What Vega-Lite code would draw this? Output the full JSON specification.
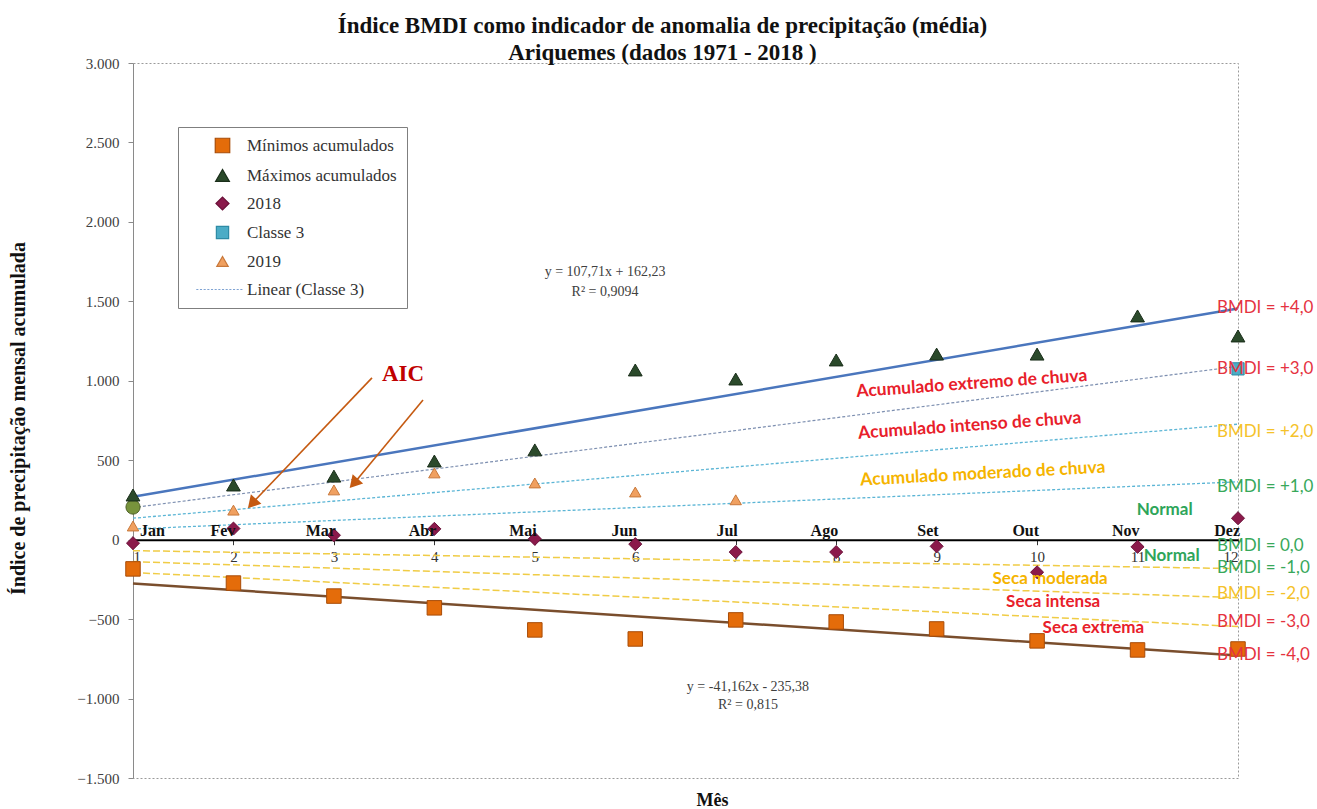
{
  "$schema": "https://vega.github.io/schema/vega-lite/v6.json",
  "autosize": {"type": "none"},
  "width": 1105,
  "height": 715,
  "padding": {"left": 133, "top": 63, "right": 79, "bottom": 31},
  "background": "white",
  "title": {
    "text": ["Índice BMDI como indicador de anomalia de precipitação (média)", "Ariquemes  (dados  1971 - 2018 )"],
    "font": "Liberation Serif",
    "fontSize": 23,
    "fontWeight": "bold",
    "lineHeight": 27,
    "color": "#111111",
    "anchor": "middle",
    "frame": "group",
    "dx": -23,
    "dy": 3,
    "offset": -6
  },
  "config": {
    "view": {"stroke": "#9a9a9a", "strokeDash": [2, 2], "strokeWidth": 1},
    "axis": {"grid": false}
  },
  "datasets": {
    "pts": [
      {"serie": "Mínimos acumulados", "mes": 1, "v": -184},
      {"serie": "Mínimos acumulados", "mes": 2, "v": -273},
      {"serie": "Mínimos acumulados", "mes": 3, "v": -355},
      {"serie": "Mínimos acumulados", "mes": 4, "v": -429},
      {"serie": "Mínimos acumulados", "mes": 5, "v": -568},
      {"serie": "Mínimos acumulados", "mes": 6, "v": -625},
      {"serie": "Mínimos acumulados", "mes": 7, "v": -505},
      {"serie": "Mínimos acumulados", "mes": 8, "v": -518},
      {"serie": "Mínimos acumulados", "mes": 9, "v": -562},
      {"serie": "Mínimos acumulados", "mes": 10, "v": -637},
      {"serie": "Mínimos acumulados", "mes": 11, "v": -694},
      {"serie": "Mínimos acumulados", "mes": 12, "v": -688},
      {"serie": "Máximos acumulados", "mes": 1, "v": 281},
      {"serie": "Máximos acumulados", "mes": 2, "v": 344},
      {"serie": "Máximos acumulados", "mes": 3, "v": 400},
      {"serie": "Máximos acumulados", "mes": 4, "v": 495},
      {"serie": "Máximos acumulados", "mes": 5, "v": 565},
      {"serie": "Máximos acumulados", "mes": 6, "v": 1068},
      {"serie": "Máximos acumulados", "mes": 7, "v": 1011},
      {"serie": "Máximos acumulados", "mes": 8, "v": 1131},
      {"serie": "Máximos acumulados", "mes": 9, "v": 1168},
      {"serie": "Máximos acumulados", "mes": 10, "v": 1168},
      {"serie": "Máximos acumulados", "mes": 11, "v": 1408},
      {"serie": "Máximos acumulados", "mes": 12, "v": 1282},
      {"serie": "2018", "mes": 1, "v": -22},
      {"serie": "2018", "mes": 2, "v": 70},
      {"serie": "2018", "mes": 3, "v": 28},
      {"serie": "2018", "mes": 4, "v": 68},
      {"serie": "2018", "mes": 5, "v": 5},
      {"serie": "2018", "mes": 6, "v": -28},
      {"serie": "2018", "mes": 7, "v": -78},
      {"serie": "2018", "mes": 8, "v": -78},
      {"serie": "2018", "mes": 9, "v": -42},
      {"serie": "2018", "mes": 10, "v": -205},
      {"serie": "2018", "mes": 11, "v": -45},
      {"serie": "2018", "mes": 12, "v": 135},
      {"serie": "Classe 3", "mes": 12, "v": 1075},
      {"serie": "2019", "mes": 1, "v": 86},
      {"serie": "2019", "mes": 2, "v": 186},
      {"serie": "2019", "mes": 3, "v": 313},
      {"serie": "2019", "mes": 4, "v": 420},
      {"serie": "2019", "mes": 5, "v": 357},
      {"serie": "2019", "mes": 6, "v": 300},
      {"serie": "2019", "mes": 7, "v": 251}
    ],
    "meses": [
      {"mes": 1, "nome": "Jan"}, {"mes": 2, "nome": "Fev"}, {"mes": 3, "nome": "Mar"},
      {"mes": 4, "nome": "Abr"}, {"mes": 5, "nome": "Mai"}, {"mes": 6, "nome": "Jun"},
      {"mes": 7, "nome": "Jul"}, {"mes": 8, "nome": "Ago"}, {"mes": 9, "nome": "Set"},
      {"mes": 10, "nome": "Out"}, {"mes": 11, "nome": "Nov"}, {"mes": 12, "nome": "Dez"}
    ]
  },
  "layer": [
    {
      "data": {"values": [{"linha": "p1", "mes": 1, "v": 67}, {"linha": "p1", "mes": 12, "v": 364}, {"linha": "p2", "mes": 1, "v": 135}, {"linha": "p2", "mes": 12, "v": 727}]},
      "mark": {"type": "line", "color": "#5bb5d5", "strokeWidth": 1.3, "strokeDash": [3, 2]},
      "encoding": {
        "x": {"field": "mes", "type": "quantitative", "scale": {"domain": [1, 12], "nice": false, "zero": false},
          "axis": {"values": [1,2,3,4,5,6,7,8,9,10,11,12], "format": "d", "offset": -238.3, "domain": true, "domainColor": "#000000", "domainWidth": 2,
            "ticks": true, "tickSize": 5, "tickColor": "#333333", "labelFont": "Liberation Serif", "labelFontSize": 15, "labelColor": "#333333",
            "labelPadding": 5, "title": "Mês", "titleFont": "Liberation Serif", "titleFontSize": 18, "titleFontWeight": "bold", "titleColor": "#111111",
            "titleX": 579, "titleY": 252, "titleAlign": "center", "titleBaseline": "top"}},
        "y": {"field": "v", "type": "quantitative", "scale": {"domain": [-1500, 3000], "nice": false, "zero": false},
          "axis": {"values": [-1500,-1000,-500,0,500,1000,1500,2000,2500,3000], "labelExpr": "replace(format(datum.value, ','), ',', '.')",
            "labelFont": "Liberation Serif", "labelFontSize": 15, "labelColor": "#404040", "domainColor": "#8a8a8a", "tickColor": "#8a8a8a", "tickSize": 5, "labelPadding": 9,
            "title": "Índice de precipitação  mensal acumulada", "titleFont": "Liberation Serif", "titleFontSize": 20, "titleFontWeight": "bold", "titleColor": "#111111",
            "titleX": -115, "titleY": 355, "titleAlign": "center", "titleBaseline": "middle", "titleAngle": -90}},
        "detail": {"field": "linha"}
      }
    },
    {
      "data": {"values": [{"linha": "p3", "mes": 1, "v": 202}, {"linha": "p3", "mes": 12, "v": 1091}]},
      "mark": {"type": "line", "color": "#7d8fb0", "strokeWidth": 1.2, "strokeDash": [3, 2]},
      "encoding": {"x": {"field": "mes", "type": "quantitative"}, "y": {"field": "v", "type": "quantitative"}}
    },
    {
      "data": {"values": [{"linha": "p4", "mes": 1, "v": 270}, {"linha": "p4", "mes": 12, "v": 1455}]},
      "mark": {"type": "line", "color": "#4a76bd", "strokeWidth": 2.5},
      "encoding": {"x": {"field": "mes", "type": "quantitative"}, "y": {"field": "v", "type": "quantitative"}}
    },
    {
      "data": {"values": [{"linha": "m1", "mes": 1, "v": -69}, {"linha": "m1", "mes": 12, "v": -182}, {"linha": "m2", "mes": 1, "v": -138}, {"linha": "m2", "mes": 12, "v": -365}, {"linha": "m3", "mes": 1, "v": -207}, {"linha": "m3", "mes": 12, "v": -547}]},
      "mark": {"type": "line", "color": "#f0cc45", "strokeWidth": 1.5, "strokeDash": [7, 3]},
      "encoding": {"x": {"field": "mes", "type": "quantitative"}, "y": {"field": "v", "type": "quantitative"}, "detail": {"field": "linha"}}
    },
    {
      "data": {"values": [{"linha": "m4", "mes": 1, "v": -276.5}, {"linha": "m4", "mes": 12, "v": -729.3}]},
      "mark": {"type": "line", "color": "#7a4e2d", "strokeWidth": 2.5},
      "encoding": {"x": {"field": "mes", "type": "quantitative"}, "y": {"field": "v", "type": "quantitative"}}
    },
    {
      "data": {"values": [{"mes": 1, "v": 205}]},
      "mark": {"type": "point", "shape": "circle", "filled": true, "size": 200, "color": "#77933c", "stroke": "#4f6228", "strokeWidth": 1, "opacity": 1},
      "encoding": {"x": {"field": "mes", "type": "quantitative"}, "y": {"field": "v", "type": "quantitative"}}
    },
    {
      "data": {"name": "pts"},
      "mark": {"type": "point", "filled": true, "opacity": 1, "strokeWidth": 1},
      "encoding": {
        "x": {"field": "mes", "type": "quantitative"},
        "y": {"field": "v", "type": "quantitative"},
        "color": {"field": "serie", "type": "nominal",
          "scale": {"domain": ["Mínimos acumulados", "Máximos acumulados", "2018", "Classe 3", "2019", "Linear (Classe 3)"],
                    "range": ["#e46c0a", "#2b4a2b", "#8b1a4b", "#4bacc6", "#f0a060", "#ffffff"]},
          "legend": {"orient": "none", "legendX": 45, "legendY": 64, "title": " ", "titleOrient": "left", "titlePadding": 26, "titleFontSize": 10,
            "fillColor": "#ffffff", "strokeColor": "#7f7f7f",
            "padding": 10, "symbolSize": 100, "symbolStrokeWidth": 1.2, "labelOffset": 16,
            "labelExpr": "datum.label + '\u00a0\u00a0\u00a0\u00a0\u00a0\u00a0\u00a0'",
            "labelFont": "Liberation Serif", "labelFontSize": 17, "labelColor": "#333333", "rowPadding": 10, "labelLimit": 300}},
        "stroke": {"field": "serie", "type": "nominal",
          "scale": {"domain": ["Mínimos acumulados", "Máximos acumulados", "2018", "Classe 3", "2019", "Linear (Classe 3)"],
                    "range": ["#a84c08", "#1a2e1a", "#6a1038", "#2e8ba5", "#c8783a", "#7fa3d3"]}},
        "shape": {"field": "serie", "type": "nominal",
          "scale": {"domain": ["Mínimos acumulados", "Máximos acumulados", "2018", "Classe 3", "2019", "Linear (Classe 3)"],
                    "range": ["square", "triangle-up", "diamond", "square", "triangle-up", "M-5,0h0.4m0.3,0h0.4m0.3,0h0.4m0.3,0h0.4m0.3,0h0.4m0.3,0h0.4m0.3,0h0.4m0.3,0h0.4m0.3,0h0.4m0.3,0h0.4m0.3,0h0.4m0.3,0h0.4m0.3,0h0.4"]}},
        "size": {"field": "serie", "type": "nominal", "legend": null,
          "scale": {"domain": ["Mínimos acumulados", "Máximos acumulados", "2018", "Classe 3", "2019", "Linear (Classe 3)"],
                    "range": [210, 110, 90, 130, 160, 10]}}
      }
    },
    {
      "data": {"values": [{"seta": "a1", "mes": 3.379, "v": 1018}, {"seta": "a1", "mes": 2.165, "v": 215}, {"seta": "a2", "mes": 3.887, "v": 879}, {"seta": "a2", "mes": 3.18, "v": 340}]},
      "mark": {"type": "line", "color": "#c55a11", "strokeWidth": 1.6},
      "encoding": {"x": {"field": "mes", "type": "quantitative"}, "y": {"field": "v", "type": "quantitative"}, "detail": {"field": "seta"}}
    },
    {
      "data": {"values": [{"seta": "a1", "mes": 2.185, "v": 227}, {"seta": "a2", "mes": 3.198, "v": 354}]},
      "mark": {"type": "point", "shape": "triangle-up", "filled": true, "size": 200, "angle": 222, "color": "#c55a11", "opacity": 1},
      "encoding": {"x": {"field": "mes", "type": "quantitative"}, "y": {"field": "v", "type": "quantitative"}}
    },
    {
      "data": {"values": [{"mes": 3.688, "v": 1043, "t": "AIC"}]},
      "mark": {"type": "text", "font": "Liberation Serif", "fontSize": 23, "fontWeight": "bold", "color": "#c00000", "align": "center", "baseline": "middle"},
      "encoding": {"x": {"field": "mes", "type": "quantitative"}, "y": {"field": "v", "type": "quantitative"}, "text": {"field": "t"}}
    },
    {
      "data": {"values": [
        {"mes": 5.699, "v": 1684, "t": "y = 107,71x + 162,23"},
        {"mes": 5.699, "v": 1558, "t": "R² = 0,9094"},
        {"mes": 7.122, "v": -927, "t": "y = -41,162x - 235,38"},
        {"mes": 7.122, "v": -1040, "t": "R² = 0,815"}
      ]},
      "mark": {"type": "text", "font": "Liberation Serif", "fontSize": 14, "color": "#404040", "align": "center", "baseline": "middle"},
      "encoding": {"x": {"field": "mes", "type": "quantitative"}, "y": {"field": "v", "type": "quantitative"}, "text": {"field": "t"}}
    },
    {
      "data": {"name": "meses"},
      "transform": [{"filter": "datum.mes > 1"}],
      "mark": {"type": "text", "font": "Liberation Serif", "fontSize": 16, "fontWeight": "bold", "color": "#111111", "align": "right", "baseline": "bottom", "dx": 2, "dy": -1},
      "encoding": {"x": {"field": "mes", "type": "quantitative"}, "y": {"datum": 0, "type": "quantitative"}, "text": {"field": "nome"}}
    },
    {
      "data": {"name": "meses"},
      "transform": [{"filter": "datum.mes == 1"}],
      "mark": {"type": "text", "font": "Liberation Serif", "fontSize": 16, "fontWeight": "bold", "color": "#111111", "align": "left", "baseline": "bottom", "dx": 7, "dy": -1},
      "encoding": {"x": {"field": "mes", "type": "quantitative"}, "y": {"datum": 0, "type": "quantitative"}, "text": {"field": "nome"}}
    },
    {
      "data": {"values": [
        {"mes": 9.35, "v": 980, "t": "Acumulado extremo de chuva"},
        {"mes": 9.33, "v": 716, "t": "Acumulado intenso de chuva"}
      ]},
      "mark": {"type": "text", "font": "Lato", "fontSize": 17.5, "fontWeight": "bold", "color": "#e8202a", "align": "center", "baseline": "middle", "angle": -4},
      "encoding": {"x": {"field": "mes", "type": "quantitative"}, "y": {"field": "v", "type": "quantitative"}, "text": {"field": "t"}}
    },
    {
      "data": {"values": [{"mes": 9.46, "v": 413, "t": "Acumulado  moderado de chuva"}]},
      "mark": {"type": "text", "font": "Lato", "fontSize": 17.5, "fontWeight": "bold", "color": "#f5b400", "align": "center", "baseline": "middle", "angle": -3},
      "encoding": {"x": {"field": "mes", "type": "quantitative"}, "y": {"field": "v", "type": "quantitative"}, "text": {"field": "t"}}
    },
    {
      "data": {"values": [{"mes": 11.27, "v": 187, "t": "Normal"}, {"mes": 11.34, "v": -103, "t": "Normal"}]},
      "mark": {"type": "text", "font": "Lato", "fontSize": 17, "fontWeight": "bold", "color": "#2ea55a", "align": "center", "baseline": "middle"},
      "encoding": {"x": {"field": "mes", "type": "quantitative"}, "y": {"field": "v", "type": "quantitative"}, "text": {"field": "t"}}
    },
    {
      "data": {"values": [{"mes": 10.13, "v": -245, "t": "Seca moderada"}]},
      "mark": {"type": "text", "font": "Lato", "fontSize": 17, "fontWeight": "bold", "color": "#f5b400", "align": "center", "baseline": "middle"},
      "encoding": {"x": {"field": "mes", "type": "quantitative"}, "y": {"field": "v", "type": "quantitative"}, "text": {"field": "t"}}
    },
    {
      "data": {"values": [{"mes": 10.16, "v": -392, "t": "Seca intensa"}, {"mes": 10.56, "v": -556, "t": "Seca extrema"}]},
      "mark": {"type": "text", "font": "Lato", "fontSize": 17, "fontWeight": "bold", "color": "#e8202a", "align": "center", "baseline": "middle"},
      "encoding": {"x": {"field": "mes", "type": "quantitative"}, "y": {"field": "v", "type": "quantitative"}, "text": {"field": "t"}}
    },
    {
      "data": {"values": [
        {"mes": 11.79, "v": 1455, "t": "BMDI = +4,0"},
        {"mes": 11.79, "v": 1075, "t": "BMDI = +3,0"},
        {"mes": 11.79, "v": -520, "t": "BMDI = -3,0"},
        {"mes": 11.79, "v": -729, "t": "BMDI = -4,0"}
      ]},
      "mark": {"type": "text", "font": "Lato", "fontSize": 17, "color": "#e5333f", "align": "left", "baseline": "middle"},
      "encoding": {"x": {"field": "mes", "type": "quantitative"}, "y": {"field": "v", "type": "quantitative"}, "text": {"field": "t"}}
    },
    {
      "data": {"values": [
        {"mes": 11.79, "v": 680, "t": "BMDI = +2,0"},
        {"mes": 11.79, "v": -340, "t": "BMDI = -2,0"}
      ]},
      "mark": {"type": "text", "font": "Lato", "fontSize": 17, "color": "#f5c22a", "align": "left", "baseline": "middle"},
      "encoding": {"x": {"field": "mes", "type": "quantitative"}, "y": {"field": "v", "type": "quantitative"}, "text": {"field": "t"}}
    },
    {
      "data": {"values": [
        {"mes": 11.79, "v": 330, "t": "BMDI = +1,0"},
        {"mes": 11.79, "v": -40, "t": "BMDI = 0,0"},
        {"mes": 11.79, "v": -180, "t": "BMDI = -1,0"}
      ]},
      "mark": {"type": "text", "font": "Lato", "fontSize": 17, "color": "#38a85a", "align": "left", "baseline": "middle"},
      "encoding": {"x": {"field": "mes", "type": "quantitative"}, "y": {"field": "v", "type": "quantitative"}, "text": {"field": "t"}}
    }
  ]
}
